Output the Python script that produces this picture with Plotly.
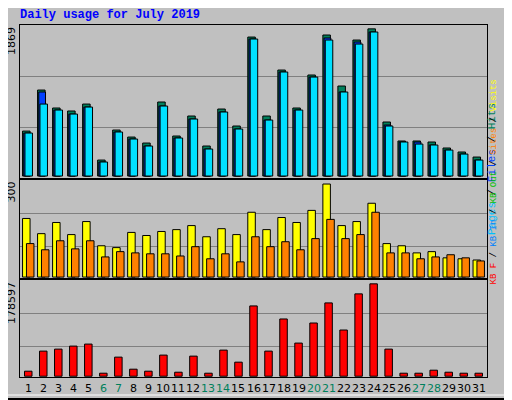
import plotly.graph_objects as go

days = list(range(1, 32))
day_labels = [str(d) for d in days]
weekend = {6, 7, 13, 14, 20, 21, 27, 28}

hits = [571, 1092, 864, 826, 914, 203, 584, 495, 419, 940, 508, 762, 381, 851, 635, 1765, 762, 1346, 864, 1283, 1791, 1143, 1727, 1869, 686, 445, 445, 432, 356, 305, 241]
files = [546, 1067, 838, 787, 876, 178, 559, 470, 381, 889, 483, 724, 343, 813, 597, 1740, 711, 1321, 838, 1257, 1753, 1067, 1702, 1829, 648, 432, 432, 394, 330, 279, 203]
pages = [546, 914, 838, 787, 876, 178, 559, 470, 381, 889, 483, 724, 343, 813, 597, 1740, 711, 1321, 838, 1257, 1727, 1067, 1676, 1829, 635, 432, 406, 394, 330, 279, 203]
visits = [189, 140, 176, 137, 179, 101, 95, 144, 134, 147, 153, 166, 130, 156, 137, 209, 153, 192, 176, 215, 300, 166, 179, 238, 108, 101, 78, 82, 62, 59, 55]
sites = [108, 88, 117, 91, 117, 65, 82, 78, 75, 75, 68, 98, 59, 75, 49, 130, 98, 114, 88, 124, 186, 124, 137, 209, 78, 78, 59, 65, 72, 62, 52]
kbytes = [9706, 48530, 52413, 58236, 62118, 5824, 36883, 13589, 9706, 40824, 7765, 38824, 5824, 50471, 27177, 135883, 48530, 110647, 64059, 102883, 141706, 89295, 159183, 178597, 52413, 5824, 5824, 11647, 7765, 5824, 5824]

# the page body has an 8px margin: map reference pixel coords to paper coords
W, H, OFF = 504, 392, 8
def px(x):
    return (x - OFF) / W
def py(y):
    return 1 - (y - OFF) / H

fig = go.Figure()
ol = dict(color="black", width=1)
fig.add_bar(x=days, y=hits, width=0.5, offset=-0.38, marker=dict(color="#00805C", line=ol), xaxis="x", yaxis="y")
fig.add_bar(x=days, y=files, width=0.45, offset=-0.3, marker=dict(color="#0040FF", line=ol), xaxis="x", yaxis="y")
fig.add_bar(x=days, y=pages, width=0.5, offset=-0.22, marker=dict(color="#00E0FF", line=ol), xaxis="x", yaxis="y")
fig.add_bar(x=days, y=visits, width=0.5, offset=-0.38, marker=dict(color="#FFFF00", line=ol), xaxis="x2", yaxis="y2")
fig.add_bar(x=days, y=sites, width=0.5, offset=-0.12, marker=dict(color="#FF8000", line=ol), xaxis="x2", yaxis="y2")
fig.add_bar(x=days, y=kbytes, width=0.5, offset=-0.25, marker=dict(color="#FF0000", line=ol), xaxis="x3", yaxis="y3")

xd = [px(20), px(487)]
common_x = dict(domain=xd, range=[0.45, 31.55], showticklabels=False, showgrid=False, zeroline=False,
                showline=True, mirror=True, linecolor="black", linewidth=1, fixedrange=True)
fig.update_layout(
    width=W, height=H, margin=dict(l=0, r=0, t=0, b=0),
    paper_bgcolor="#C0C0C0", plot_bgcolor="#C0C0C0", showlegend=False, barmode="overlay",
    xaxis=dict(common_x, anchor="y"),
    xaxis2=dict(common_x, anchor="y2"),
    xaxis3=dict(common_x, anchor="y3"),
    yaxis=dict(domain=[py(178), py(25)], range=[-25, 1918], tickvals=[622, 1270]),
    yaxis2=dict(domain=[py(278), py(180)], range=[-3, 313], tickvals=[98, 205]),
    yaxis3=dict(domain=[py(377), py(280)], range=[-1500, 186000], tickvals=[58000, 122000]),
)
for ax in ["yaxis", "yaxis2", "yaxis3"]:
    fig.layout[ax].update(showticklabels=False, showgrid=True, gridcolor="#808080", gridwidth=1,
                          zeroline=False, showline=True, mirror=True, linecolor="black",
                          linewidth=1, fixedrange=True)

mono = "Liberation Mono"
ann = []
ann.append(dict(x=px(18), y=py(15), xref="paper", yref="paper", text="<b>Daily usage for July 2019</b>",
                showarrow=False, xanchor="left", yanchor="middle", font=dict(family=mono, size=12, color="#0000FF")))
for d in days:
    ann.append(dict(x=d, y=py(388), xref="x3", yref="paper", text=str(d), showarrow=False,
                    yanchor="middle", font=dict(family="DejaVu Sans", size=11,
                                                color="#00805C" if d in weekend else "black")))
for lab, ytop in [("1869", 25), ("300", 180), ("178597", 280)]:
    ann.append(dict(x=px(11), y=py(ytop), xref="paper", yref="paper", text=lab, textangle=-90,
                    showarrow=False, xanchor="center", yanchor="top", font=dict(family="DejaVu Sans", size=11, color="black")))
def sp(t, c):
    return f'<span style="color:{c}">{t}</span>'
sl = sp(" / ", "black")
ann.append(dict(x=px(500), y=py(101), xref="paper", yref="paper", textangle=-90, showarrow=False,
                text=sp("Pages", "#00C0FF") + sl + sp("Files", "#0040FF") + sl + sp("Hits", "#00805C"),
                font=dict(family=mono, size=11)))
ann.append(dict(x=px(500), y=py(287), xref="paper", yref="paper", textangle=-90, showarrow=False,
                text=sp("KB F", "#FF0000") + sl + sp("KB In", "#0080FF") + sl + sp("KB Out", "#00C000") + sl
                + sp("Sites", "#FF8000") + sl + sp("Visits", "#FFFF00"),
                font=dict(family=mono, size=9)))
fig.update_layout(annotations=ann)
fig.add_shape(type="rect", xref="paper", yref="paper", x0=px(1), y0=py(399), x1=px(511), y1=py(1),
              line=dict(color="black", width=2))
fig.add_shape(type="rect", xref="paper", yref="paper", x0=px(5), y0=py(395), x1=px(507), y1=py(5),
              line=dict(color="white", width=1))
fig.write_html("out.html")
